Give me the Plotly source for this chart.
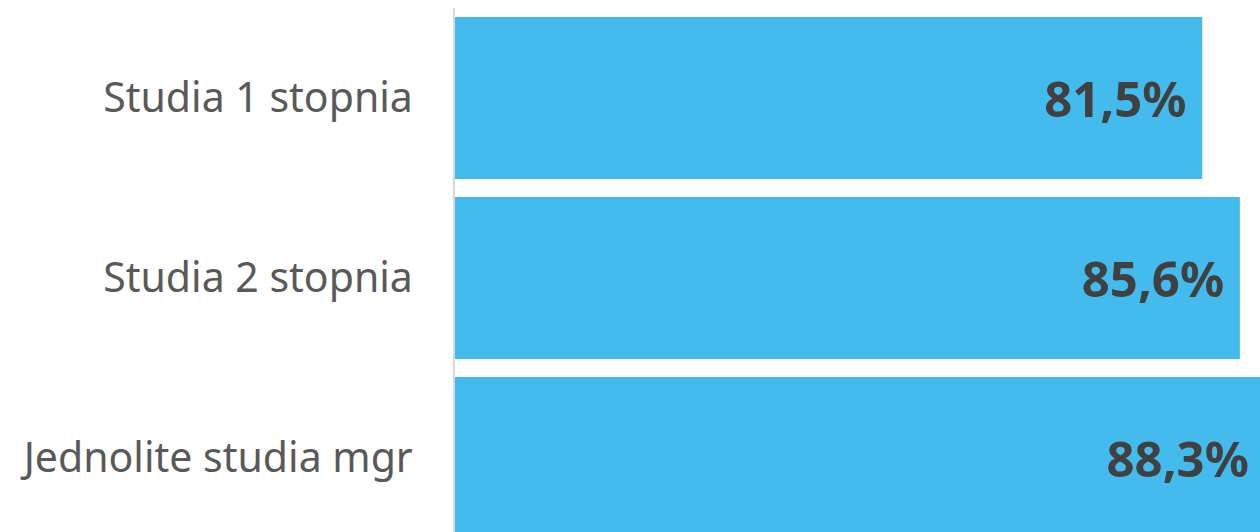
import plotly.graph_objects as go

# Share of graduates by type of studies (percent)
categories = ["Studia 1 stopnia", "Studia 2 stopnia", "Jednolite studia mgr"]
values = [81.5, 85.6, 88.3]

BAR_COLOR = "#44BBED"
VALUE_COLOR = "#404040"
LABEL_COLOR = "#595959"

fig = go.Figure(
    go.Bar(
        x=values,
        y=categories,
        orientation="h",
        marker=dict(color=BAR_COLOR, line=dict(width=0)),
        texttemplate="<b>%{x:.1f}%</b>\u00a0",
        textposition="inside",
        insidetextanchor="end",
        insidetextfont=dict(family="Noto Sans", size=49, color=VALUE_COLOR),
        cliponaxis=True,
        hoverinfo="skip",
    )
)

fig.update_layout(
    width=1260,
    height=532,
    margin=dict(l=455, r=0, t=8, b=0),
    paper_bgcolor="white",
    plot_bgcolor="white",
    bargap=0.1,
    separators=", ",
    showlegend=False,
)

fig.update_xaxes(
    range=[0, 87.8],
    showgrid=False,
    zeroline=False,
    showticklabels=False,
    showline=False,
    fixedrange=True,
)

fig.update_yaxes(
    categoryorder="array",
    categoryarray=categories,
    range=[2.411, -0.5],
    showgrid=False,
    zeroline=False,
    showline=True,
    linecolor="#D9D9D9",
    linewidth=2,
    ticks="",
    ticklabelstandoff=32,
    tickfont=dict(family="Noto Sans", size=41, color=LABEL_COLOR),
    fixedrange=True,
)

fig.write_html("out.html")
